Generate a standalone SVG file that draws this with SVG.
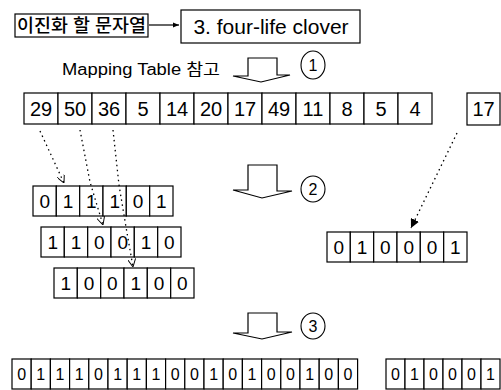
<svg xmlns="http://www.w3.org/2000/svg" width="501" height="390" viewBox="0 0 501 390">
<style>
.cell{fill:#fff;stroke:#000;stroke-width:1.2}
.t{font-family:"Liberation Sans",Arial,sans-serif;fill:#000;text-anchor:middle}
.num{font-size:20px}
.bin{font-size:19px}
.bin2{font-size:16px}
.kr{font-family:"Liberation Sans","Noto Sans CJK KR",sans-serif;fill:#000}
.dot{fill:none;stroke:#000;stroke-width:1.3;stroke-dasharray:1.5 3.5}
.blk{fill:#fff;stroke:#000;stroke-width:1.2}
.circ{fill:#fff;stroke:#000;stroke-width:1.1}
</style>
<defs>
<marker id="ah" viewBox="0 0 10 10" refX="10" refY="5" markerWidth="8" markerHeight="8" orient="auto" markerUnits="userSpaceOnUse">
<path d="M0,0 L10,5 L0,10" fill="none" stroke="#000" stroke-width="1.2"/>
</marker>
<marker id="af" viewBox="0 0 10 10" refX="10" refY="5" markerWidth="9" markerHeight="9" orient="auto" markerUnits="userSpaceOnUse">
<path d="M0,0 L10,5 L0,10 Z" fill="#000"/>
</marker>
<marker id="as" viewBox="0 0 10 10" refX="10" refY="5" markerWidth="6" markerHeight="6" orient="auto" markerUnits="userSpaceOnUse">
<path d="M0,1 L10,5 L0,9 Z" fill="#000"/>
</marker>
</defs>
<rect width="501" height="390" fill="#fff"/>

<g id="src">
<rect class="cell" x="15" y="14" width="133" height="23"/>
<text class="kr" x="17" y="32" font-size="18" font-weight="500" textLength="129" lengthAdjust="spacingAndGlyphs">이진화 할 문자열</text>
</g>
<g id="word">
<rect class="cell" x="181" y="10" width="179" height="33"/>
<text class="t" x="271" y="34" font-size="21">3. four-life clover</text>
</g>

<g id="label1">
<text class="kr" x="62" y="75" font-size="16" textLength="158" lengthAdjust="spacingAndGlyphs">Mapping Table 참고</text>
</g>

<g id="step1">
<path class="blk" d="M233,76 L248,76 L248,58 L277,58 L277,75 L290,75 L261,82 Z"/>
<ellipse class="circ" cx="313" cy="65" rx="12" ry="14"/>
<text class="t" x="313" y="71" font-size="16">1</text>
</g>

<g id="codes">
<rect class="cell" x="24" y="93" width="34" height="31"/><text class="t num" x="41" y="116">29</text>
<rect class="cell" x="58" y="93" width="34" height="31"/><text class="t num" x="75" y="116">50</text>
<rect class="cell" x="92" y="93" width="34" height="31"/><text class="t num" x="109" y="116">36</text>
<rect class="cell" x="126" y="93" width="34" height="31"/><text class="t num" x="143" y="116">5</text>
<rect class="cell" x="160" y="93" width="34" height="31"/><text class="t num" x="177" y="116">14</text>
<rect class="cell" x="194" y="93" width="34" height="31"/><text class="t num" x="211" y="116">20</text>
<rect class="cell" x="228" y="93" width="34" height="31"/><text class="t num" x="245" y="116">17</text>
<rect class="cell" x="262" y="93" width="34" height="31"/><text class="t num" x="279" y="116">49</text>
<rect class="cell" x="296" y="93" width="34" height="31"/><text class="t num" x="313" y="116">11</text>
<rect class="cell" x="330" y="93" width="34" height="31"/><text class="t num" x="347" y="116">8</text>
<rect class="cell" x="364" y="93" width="34" height="31"/><text class="t num" x="381" y="116">5</text>
<rect class="cell" x="398" y="93" width="34" height="31"/><text class="t num" x="415" y="116">4</text>
</g>
<g id="code17">
<rect class="cell" x="467" y="93" width="33" height="32"/><text class="t num" x="483.5" y="116">17</text>
</g>

<g id="step2">
<path class="blk" d="M233,190 L248,190 L248,165 L277,165 L277,191 L292,191 L262,198 Z"/>
<ellipse class="circ" cx="313" cy="189" rx="12" ry="13"/>
<text class="t" x="313" y="195" font-size="16">2</text>
</g>

<g id="bin1">
<rect class="cell" x="33" y="186" width="23.3" height="30"/><text class="t bin" x="44.7" y="208">0</text>
<rect class="cell" x="56.3" y="186" width="23.3" height="30"/><text class="t bin" x="68" y="208">1</text>
<rect class="cell" x="79.7" y="186" width="23.3" height="30"/><text class="t bin" x="91.3" y="208">1</text>
<rect class="cell" x="103" y="186" width="23.3" height="30"/><text class="t bin" x="114.7" y="208">1</text>
<rect class="cell" x="126.3" y="186" width="23.3" height="30"/><text class="t bin" x="138" y="208">0</text>
<rect class="cell" x="149.7" y="186" width="23.3" height="30"/><text class="t bin" x="161.3" y="208">1</text>
</g>
<g id="bin2">
<rect class="cell" x="41" y="227" width="23.3" height="30"/><text class="t bin" x="52.7" y="249">1</text>
<rect class="cell" x="64.3" y="227" width="23.3" height="30"/><text class="t bin" x="76" y="249">1</text>
<rect class="cell" x="87.7" y="227" width="23.3" height="30"/><text class="t bin" x="99.3" y="249">0</text>
<rect class="cell" x="111" y="227" width="23.3" height="30"/><text class="t bin" x="122.7" y="249">0</text>
<rect class="cell" x="134.3" y="227" width="23.3" height="30"/><text class="t bin" x="146" y="249">1</text>
<rect class="cell" x="157.7" y="227" width="23.3" height="30"/><text class="t bin" x="169.3" y="249">0</text>
</g>
<g id="bin3">
<rect class="cell" x="54" y="268" width="23.3" height="30"/><text class="t bin" x="65.7" y="290">1</text>
<rect class="cell" x="77.3" y="268" width="23.3" height="30"/><text class="t bin" x="89" y="290">0</text>
<rect class="cell" x="100.7" y="268" width="23.3" height="30"/><text class="t bin" x="112.3" y="290">0</text>
<rect class="cell" x="124" y="268" width="23.3" height="30"/><text class="t bin" x="135.7" y="290">1</text>
<rect class="cell" x="147.3" y="268" width="23.3" height="30"/><text class="t bin" x="159" y="290">0</text>
<rect class="cell" x="170.7" y="268" width="23.3" height="30"/><text class="t bin" x="182.3" y="290">0</text>
</g>
<g id="bin17">
<rect class="cell" x="327" y="232" width="23.3" height="30"/><text class="t bin" x="338.7" y="254">0</text>
<rect class="cell" x="350.3" y="232" width="23.3" height="30"/><text class="t bin" x="362" y="254">1</text>
<rect class="cell" x="373.7" y="232" width="23.3" height="30"/><text class="t bin" x="385.3" y="254">0</text>
<rect class="cell" x="397" y="232" width="23.3" height="30"/><text class="t bin" x="408.7" y="254">0</text>
<rect class="cell" x="420.3" y="232" width="23.3" height="30"/><text class="t bin" x="432" y="254">0</text>
<rect class="cell" x="443.7" y="232" width="23.3" height="30"/><text class="t bin" x="455.3" y="254">1</text>
</g>

<g id="step3">
<path class="blk" d="M233,333 L248,333 L248,313 L277,313 L277,332 L292,332 L262,339 Z"/>
<ellipse class="circ" cx="313" cy="326" rx="12" ry="13"/>
<text class="t" x="313" y="332" font-size="16">3</text>
</g>

<g id="result">
<rect class="cell" x="12" y="359" width="19.2" height="30"/><text class="t bin2" x="21.6" y="380">0</text>
<rect class="cell" x="31.2" y="359" width="19.2" height="30"/><text class="t bin2" x="40.8" y="380">1</text>
<rect class="cell" x="50.4" y="359" width="19.2" height="30"/><text class="t bin2" x="60" y="380">1</text>
<rect class="cell" x="69.6" y="359" width="19.2" height="30"/><text class="t bin2" x="79.2" y="380">1</text>
<rect class="cell" x="88.8" y="359" width="19.2" height="30"/><text class="t bin2" x="98.4" y="380">0</text>
<rect class="cell" x="108" y="359" width="19.2" height="30"/><text class="t bin2" x="117.6" y="380">1</text>
<rect class="cell" x="127.2" y="359" width="19.2" height="30"/><text class="t bin2" x="136.8" y="380">1</text>
<rect class="cell" x="146.4" y="359" width="19.2" height="30"/><text class="t bin2" x="156" y="380">1</text>
<rect class="cell" x="165.6" y="359" width="19.2" height="30"/><text class="t bin2" x="175.2" y="380">0</text>
<rect class="cell" x="184.8" y="359" width="19.2" height="30"/><text class="t bin2" x="194.4" y="380">0</text>
<rect class="cell" x="204" y="359" width="19.2" height="30"/><text class="t bin2" x="213.6" y="380">1</text>
<rect class="cell" x="223.2" y="359" width="19.2" height="30"/><text class="t bin2" x="232.8" y="380">0</text>
<rect class="cell" x="242.4" y="359" width="19.2" height="30"/><text class="t bin2" x="252" y="380">1</text>
<rect class="cell" x="261.6" y="359" width="19.2" height="30"/><text class="t bin2" x="271.2" y="380">0</text>
<rect class="cell" x="280.8" y="359" width="19.2" height="30"/><text class="t bin2" x="290.4" y="380">0</text>
<rect class="cell" x="300" y="359" width="19.2" height="30"/><text class="t bin2" x="309.6" y="380">1</text>
<rect class="cell" x="319.2" y="359" width="19.2" height="30"/><text class="t bin2" x="328.8" y="380">0</text>
<rect class="cell" x="338.4" y="359" width="19.2" height="30"/><text class="t bin2" x="348" y="380">0</text>
</g>
<g id="result17">
<rect class="cell" x="386" y="359" width="19" height="30"/><text class="t bin2" x="395.5" y="380">0</text>
<rect class="cell" x="405" y="359" width="19" height="30"/><text class="t bin2" x="414.5" y="380">1</text>
<rect class="cell" x="424" y="359" width="19" height="30"/><text class="t bin2" x="433.5" y="380">0</text>
<rect class="cell" x="443" y="359" width="19" height="30"/><text class="t bin2" x="452.5" y="380">0</text>
<rect class="cell" x="462" y="359" width="19" height="30"/><text class="t bin2" x="471.5" y="380">0</text>
<rect class="cell" x="481" y="359" width="19" height="30"/><text class="t bin2" x="490.5" y="380">1</text>
</g>

<g id="connectors">
<line x1="149" y1="25" x2="179" y2="25" stroke="#000" stroke-width="1.2" marker-end="url(#as)"/>
<line class="dot" x1="40" y1="131" x2="64" y2="183" marker-end="url(#ah)"/>
<path class="dot" d="M80,130 L90,182 L103,225" marker-end="url(#ah)"/>
<path class="dot" d="M113,130 L119,185 L126,227 L133,267" marker-end="url(#ah)"/>
<line class="dot" x1="457" y1="133" x2="411" y2="228" marker-end="url(#af)"/>
</g>
</svg>
